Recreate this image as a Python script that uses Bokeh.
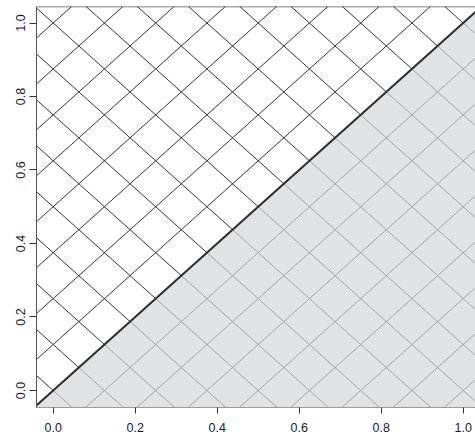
import numpy as np
from bokeh.plotting import figure
from bokeh.models import Range1d, FixedTicker, Span
from bokeh.embed import file_html
from bokeh.resources import INLINE

# ---- data ----
diag_x = [-0.2, 1.2]            # the line y = x (drawn across the whole panel)
diag_y = [-0.2, 1.2]
x_ticks = [0.0, 0.2, 0.4, 0.6, 0.8, 1.0]
y_ticks = [0.0, 0.2, 0.4, 0.6, 0.8, 1.0]
x_tick_labels = ["0.0", "0.2", "0.4", "0.6", "0.8", "1.0"]
y_tick_labels = ["0.0", "0.2", "0.4", "0.6", "0.8", "1.0"]
hatch_spacing = 0.125           # cross-hatch spacing (data units, along x)

# ---- ranges (R-style padding, panel cropped on the right) ----
x_start, x_end = -0.0407, 1.0300
y_start, y_end = -0.0463, 1.0449

p = figure(width=475, height=438, x_range=Range1d(x_start, x_end),
           y_range=Range1d(y_start, y_end), output_backend="svg",
           toolbar_location=None, min_border_left=36, min_border_right=0,
           min_border_top=6, min_border_bottom=31)
p.background_fill_color = "white"
p.border_fill_color = "white"
p.outline_line_color = None
p.grid.visible = False

# lower-right region (below y = x): grey fill
fill_x = [diag_x[0], diag_x[1], diag_x[1]]
fill_y = [diag_y[0], diag_y[1], diag_y[0]]
p.patch(fill_x, fill_y, fill_color="#e0e2e3", line_color=None)

L = 3.0
# hatch lines x + y = c  (slope -1): split at the diagonal
cs = np.arange(-0.25, 2.25 + 1e-9, hatch_spacing)
up_x0, up_y0, up_x1, up_y1 = [], [], [], []
lo_x0, lo_y0, lo_x1, lo_y1 = [], [], [], []
for c in cs:
    m = c / 2.0
    up_x0.append(m - L); up_y0.append(m + L); up_x1.append(m); up_y1.append(m)
    lo_x0.append(m); lo_y0.append(m); lo_x1.append(m + L); lo_y1.append(m - L)
# hatch lines y - x = d (slope +1)
ds = np.arange(-1.25, 1.25 + 1e-9, hatch_spacing)
for d in ds:
    if abs(d) < 1e-9:
        continue
    if d > 0:
        up_x0.append(-L); up_y0.append(-L + d); up_x1.append(L); up_y1.append(L + d)
    else:
        lo_x0.append(-L); lo_y0.append(-L + d); lo_x1.append(L); lo_y1.append(L + d)

p.segment(lo_x0, lo_y0, lo_x1, lo_y1, line_color="#a3a5a6", line_width=1)
p.segment(up_x0, up_y0, up_x1, up_y1, line_color="#333333", line_width=1)

# the diagonal
p.line(diag_x, diag_y, line_color="#2e2e2e", line_width=2)

# top frame line
p.add_layout(Span(location=y_end, dimension="width", line_color="#555555", line_width=1.5))

# axes
for ax, ticks, labels in ((p.xaxis[0], x_ticks, x_tick_labels), (p.yaxis[0], y_ticks, y_tick_labels)):
    ax.ticker = FixedTicker(ticks=ticks)
    ax.major_label_overrides = {t: l for t, l in zip(ticks, labels)}
    ax.minor_tick_line_color = None
    ax.major_tick_in = 0
    ax.major_tick_line_color = "#333333"
    ax.major_label_text_font = "Liberation Sans"
    ax.major_label_text_font_size = "12.5px"
    ax.major_label_text_color = "#1a1a1a"

p.xaxis.major_tick_out = 6
p.xaxis.major_label_standoff = 9
p.xaxis.axis_line_color = "#9a9a9a"
p.yaxis.major_tick_out = 7
p.yaxis.major_label_standoff = 4
p.yaxis.major_label_orientation = "vertical"
p.yaxis.axis_line_color = "#555555"

open("out.html", "w").write(file_html(p, INLINE))
